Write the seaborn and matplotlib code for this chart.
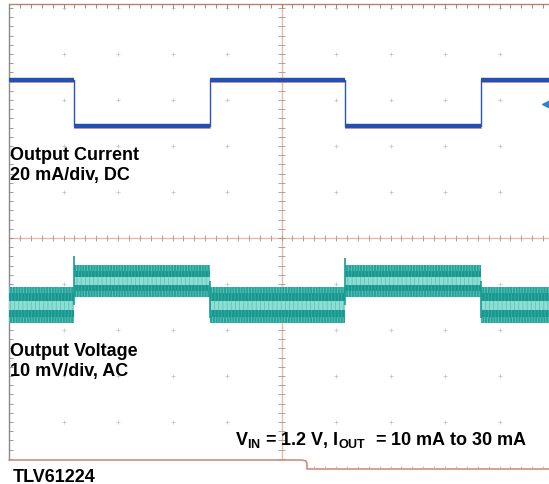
import numpy as np
import pandas as pd
import matplotlib
matplotlib.use('Agg')
import matplotlib.pyplot as plt
import seaborn as sns

# Scope capture: load step 10 mA <-> 30 mA, output voltage ripple (AC)
# segment boundaries on the time axis, in divisions
edges_div = [0.0, 1.19, 3.69, 6.17, 8.66, 10.0]
# output current per segment (mA)
i_out_ma = [30, 10, 30, 10, 30]
# output voltage (AC coupled) mean per segment (mV)
v_out_mv = [-2.7, 2.6, -2.7, 2.6, -2.7]
# noise envelope per segment (mV, +/-)
v_pk_mv = [3.9, 3.5, 3.9, 3.5, 3.9]
v_core_mv = [2.6, 2.2, 2.6, 2.2, 2.6]
v_light_mv = [1.0, 0.9, 1.0, 0.9, 1.0]
# voltage spike at each load transition (mV)
spike_mv = [8.0, -5.5, 7.5, -5.5]

# channel settings
ch1_scale, ch1_offset = 20.0, 1.93    # mA/div, div
ch2_scale, ch2_offset = 10.0, -1.195  # mV/div, div

sns.set_theme(style='white')
plt.rcParams['font.family'] = ['Liberation Sans', 'DejaVu Sans']
plt.rcParams['font.weight'] = 'bold'
plt.rcParams['mathtext.fontset'] = 'custom'
plt.rcParams['mathtext.rm'] = 'Liberation Sans:bold'
plt.rcParams['mathtext.bf'] = 'Liberation Sans:bold'
plt.rcParams['hatch.linewidth'] = 0.6

fig = plt.figure(figsize=(5.49, 4.85), dpi=100)
ax = fig.add_axes([0, 0, 1, 1])

# frame geometry (divisions)
top_y = 234 / 46
bot_y = -222 / 46
bot2_y = -231 / 46
notch_x = 298 / 54.5

# graticule dots
gx, gy = np.meshgrid(np.arange(1, 10), np.arange(-4, 6))
mask = (gx != 5) & (gy != 0)
ax.scatter(gx[mask], gy[mask], marker='+', s=10, color='#c8c8c8', linewidths=0.6, zorder=1)

# center cross with minor ticks
grid_c = '#e9b9aa'
tick_c = '#9a9a9a'
ax.vlines(5, bot_y, top_y, color=grid_c, lw=1.0, zorder=1)
ax.hlines(0, 0, 10.2, color=grid_c, lw=1.0, zorder=1)
xt = np.arange(0, 10.01, 0.2)
yt = np.arange(-4.8, 5.1, 0.2)
ax.vlines(xt, -0.07, 0.07, color=tick_c, lw=0.6, zorder=1)
ax.hlines(yt, 5 - 0.06, 5 + 0.06, color=tick_c, lw=0.6, zorder=1)

# frame edges
ax.plot([0, 10.2], [top_y, top_y], color='#b98272', lw=1.0, zorder=2)
ax.vlines(xt, top_y - 0.08, top_y, color='#a07060', lw=0.6, zorder=2)
ax.plot([0, 0], [bot_y, top_y], color='#8a8a8a', lw=1.0, zorder=2)
ax.hlines(yt[yt > bot_y], 0, 0.08, color='#8a8a8a', lw=0.6, zorder=2)
ax.plot([0, notch_x - 0.1, notch_x - 0.02, notch_x, notch_x, 10.2],
        [bot_y, bot_y, bot_y - 0.02, bot_y - 0.08, bot2_y, bot2_y],
        color='#cf8f7c', lw=1.2, zorder=2)
xb = xt[xt > notch_x]
ax.vlines(xb, bot2_y, bot2_y + 0.06, color='#b0b0b0', lw=0.6, zorder=2)

# output voltage trace (ch2)
def ch2(vals):
    return [v / ch2_scale + ch2_offset for v in vals]

def stepped(vals):
    return list(vals) + [vals[-1]]

mid = np.array(v_out_mv)
ax.fill_between(edges_div, stepped(ch2(mid - np.array(v_pk_mv))),
                stepped(ch2(mid + np.array(v_pk_mv))), step='post',
                facecolor='#26a399', edgecolor='#5ec6bc', hatch='||||||', lw=0, zorder=3)
ax.fill_between(edges_div, stepped(ch2(mid - np.array(v_core_mv))),
                stepped(ch2(mid + np.array(v_core_mv))), step='post',
                facecolor='#1a968e', edgecolor='#35b1a7', hatch='|||||', lw=0, zorder=4)
ax.fill_between(edges_div, stepped(ch2(mid - np.array(v_light_mv))),
                stepped(ch2(mid + np.array(v_light_mv))), step='post',
                facecolor='#8edcd2', edgecolor='#5cc6bc', hatch='||||', lw=0, zorder=5)
for t, s, a in zip(edges_div[1:-1], spike_mv, v_out_mv[:-1]):
    ax.vlines(t, ch2([a])[0], ch2([s])[0], color='#1a9c94', lw=1.2, zorder=5)

# output current trace (ch1)
cur = pd.DataFrame({'t': edges_div,
                    'div': stepped([i / ch1_scale + ch1_offset for i in i_out_ma])})
sns.lineplot(data=cur.assign(div=cur['div'] - 0.035), x='t', y='div', ax=ax,
             drawstyle='steps-post', estimator=None, color='#eb9a8c', lw=0.6, zorder=6)
sns.lineplot(data=cur, x='t', y='div', ax=ax, drawstyle='steps-post',
             estimator=None, color='#2b55b5', lw=1.0, zorder=7)
ax.hlines(cur['div'][:-1], edges_div[:-1], edges_div[1:], color='#2450b0', lw=3.2, zorder=7)
ax.scatter([9.86], [2.91], marker='<', s=30, color='#2b7fd0', zorder=8)
ax.set_xlim(-9 / 54.5, 540 / 54.5)
ax.set_ylim(-246 / 46, 239 / 46)
ax.axis('off')

# labels
lab = dict(fontsize=13, fontweight='bold', color='black', va='baseline', ha='left', zorder=10)
ax.text(0.02, 1.72, 'Output Current', **lab)
ax.text(0.02, 1.28, '20 mA/div, DC', **lab)
ax.text(0.02, -2.54, 'Output Voltage', **lab)
ax.text(0.02, -2.98, '10 mV/div, AC', **lab)
ax.text(4.15, -4.48, r'V$_\mathregular{IN}$ = 1.2 V, I$_\mathregular{OUT}$  = 10 mA to 30 mA', **lab)
ax.text(0.07, -5.28, 'TLV61224', **lab)

fig.savefig('out.png', dpi=100)
